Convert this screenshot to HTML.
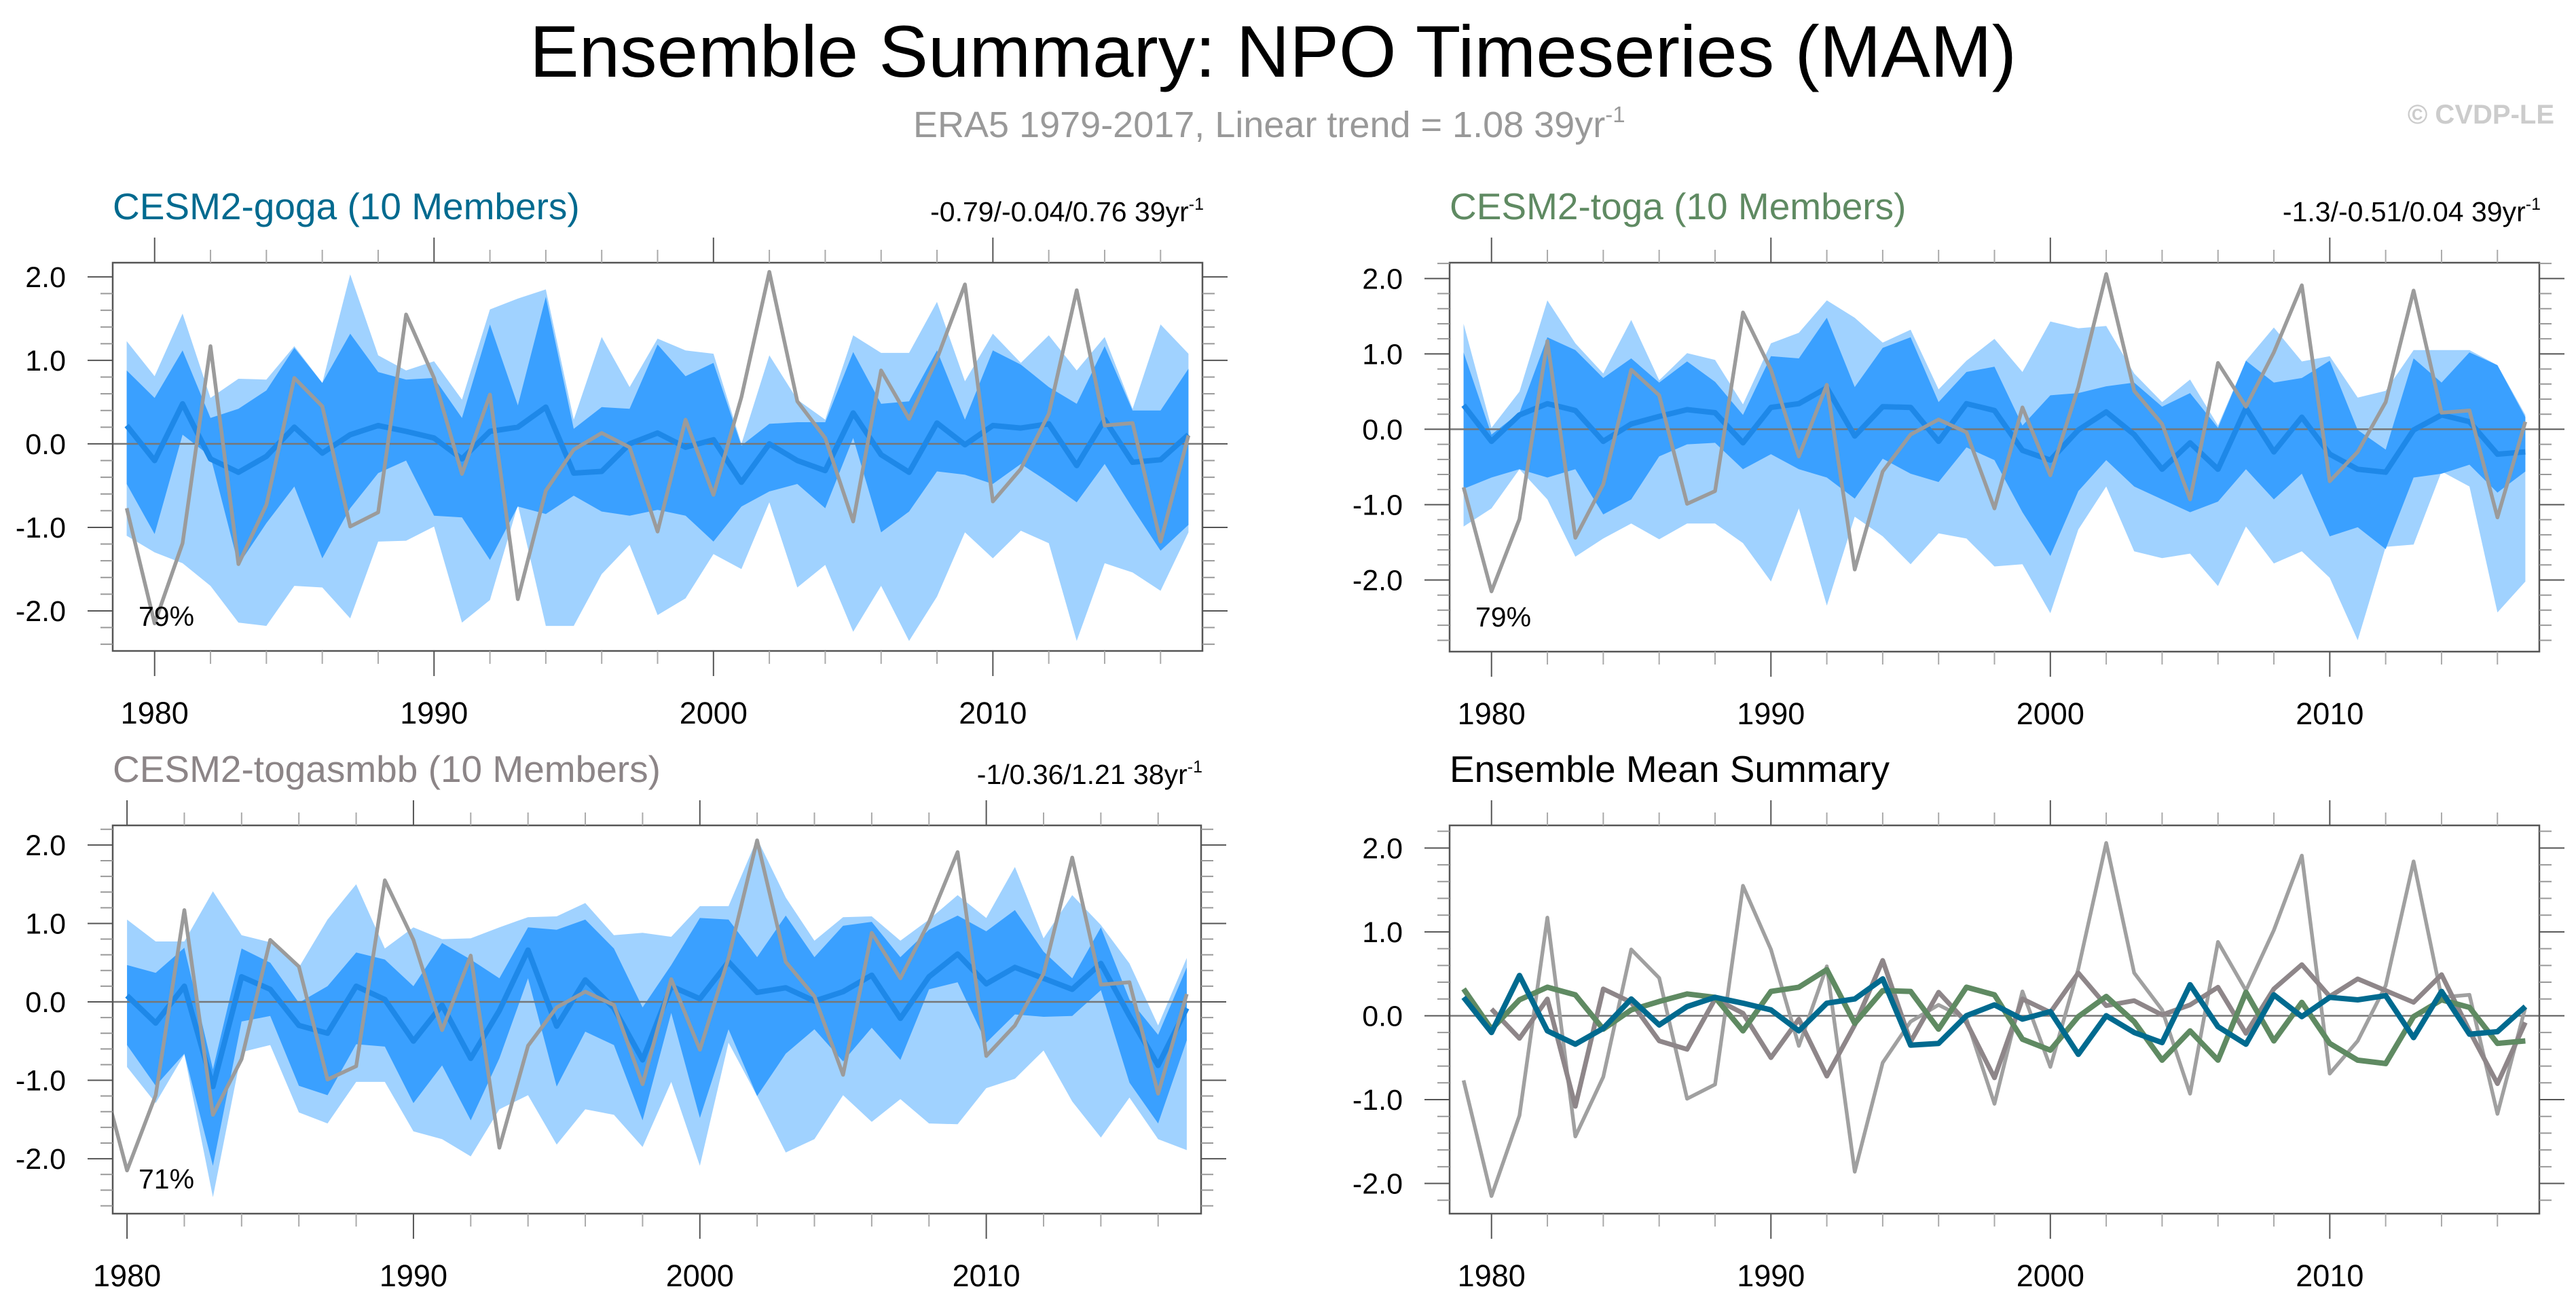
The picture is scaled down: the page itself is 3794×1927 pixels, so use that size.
<!DOCTYPE html>
<html><head><meta charset="utf-8"><title>Ensemble Summary: NPO Timeseries (MAM)</title>
<style>
html,body{margin:0;padding:0;background:#fff;}
svg{display:block;font-family:"Liberation Sans",Arial,sans-serif;}
</style></head>
<body>
<svg id="chart" xmlns="http://www.w3.org/2000/svg" width="3794" height="1927" viewBox="0 0 3794 1927">
<rect x="0" y="0" width="3794" height="1927" fill="#fff"/>
<text x="1875" y="113" font-size="108" text-anchor="middle" fill="#000" textLength="2190" lengthAdjust="spacingAndGlyphs">Ensemble Summary: NPO Timeseries (MAM)</text>
<text x="1345" y="202" font-size="54" fill="#999">ERA5 1979-2017, Linear trend = 1.08 39yr<tspan font-size="33" dy="-22">-1</tspan></text>
<text x="3762" y="182" font-size="40" font-weight="bold" text-anchor="end" fill="#ccc">© CVDP-LE</text>
<g id="panels"></g>
</svg>
<script>
// ---- data ----
const yearsFull = [1979,1980,1981,1982,1983,1984,1985,1986,1987,1988,1989,1990,1991,1992,1993,1994,1995,1996,1997,1998,1999,2000,2001,2002,2003,2004,2005,2006,2007,2008,2009,2010,2011,2012,2013,2014,2015,2016,2017];
const years38 = [1980,1981,1982,1983,1984,1985,1986,1987,1988,1989,1990,1991,1992,1993,1994,1995,1996,1997,1998,1999,2000,2001,2002,2003,2004,2005,2006,2007,2008,2009,2010,2011,2012,2013,2014,2015,2016,2017];
const era5 = [-0.77,-2.15,-1.19,1.17,-1.44,-0.73,0.79,0.45,-0.99,-0.82,1.55,0.79,-0.36,0.59,-1.86,-0.56,-0.07,0.13,-0.04,-1.05,0.29,-0.61,0.56,2.06,0.51,0.07,-0.93,0.88,0.3,1.02,1.91,-0.69,-0.3,0.36,1.84,0.22,0.25,-1.17,0.1];

const gogaOuterHi = [1.23,0.81,1.56,0.55,0.78,0.77,1.17,0.73,2.03,1.06,0.88,0.99,0.53,1.61,1.74,1.85,0.29,1.28,0.68,1.26,1.12,1.08,0.0,1.06,0.53,0.29,1.3,1.09,1.09,1.7,0.75,1.32,0.97,1.3,0.88,1.28,0.42,1.43,1.08];
const gogaOuterLo = [-1.1,-1.3,-1.43,-1.7,-2.14,-2.18,-1.7,-1.72,-2.09,-1.17,-1.16,-0.99,-2.14,-1.87,-0.73,-2.18,-2.18,-1.56,-1.21,-2.05,-1.85,-1.32,-1.5,-0.7,-1.72,-1.45,-2.25,-1.7,-2.36,-1.83,-1.06,-1.37,-1.04,-1.19,-2.36,-1.43,-1.54,-1.76,-1.06];
const gogaInnerHi = [0.88,0.55,1.12,0.31,0.42,0.64,1.15,0.73,1.32,0.86,0.77,0.79,0.31,1.43,0.46,1.76,0.18,0.44,0.42,1.19,0.81,0.97,-0.02,0.24,0.26,0.26,1.1,0.48,0.51,1.12,0.29,1.12,0.95,0.68,0.48,1.17,0.4,0.4,0.9];
const gogaInnerLo = [-0.48,-1.08,0.11,-0.15,-1.45,-0.95,-0.51,-1.37,-0.77,-0.35,-0.2,-0.86,-0.88,-1.39,-0.75,-0.84,-0.62,-0.81,-0.86,-0.79,-0.86,-1.17,-0.75,-0.57,-0.48,-0.77,0.07,-1.06,-0.81,-0.33,-0.37,-0.48,-0.24,-0.46,-0.7,-0.24,-0.77,-1.28,-0.97];
const gogaMean = [0.22,-0.2,0.48,-0.18,-0.34,-0.15,0.2,-0.11,0.11,0.22,0.15,0.07,-0.18,0.15,0.2,0.44,-0.35,-0.33,0.0,0.13,-0.04,0.05,-0.46,0.0,-0.2,-0.32,0.37,-0.13,-0.34,0.25,-0.01,0.22,0.19,0.24,-0.26,0.29,-0.22,-0.19,0.11];

const togaOuterHi = [1.4,0.02,0.5,1.71,1.14,0.74,1.45,0.65,1.01,0.92,0.33,1.14,1.28,1.71,1.48,1.15,1.32,0.53,0.91,1.2,0.76,1.43,1.34,1.37,0.74,0.36,0.66,0.05,0.91,1.35,0.9,0.97,0.42,0.51,1.05,1.05,1.05,0.85,0.19];
const togaOuterLo = [-1.29,-1.05,-0.53,-0.93,-1.69,-1.45,-1.25,-1.46,-1.25,-1.25,-1.51,-2.02,-1.05,-2.34,-1.16,-1.42,-1.79,-1.38,-1.45,-1.82,-1.79,-2.44,-1.33,-0.76,-1.62,-1.71,-1.65,-2.08,-1.29,-1.78,-1.62,-1.97,-2.8,-1.56,-1.53,-0.56,-0.76,-2.43,-2.02];
const togaInnerHi = [1.02,-0.07,0.22,1.22,1.05,0.68,0.94,0.62,0.9,0.63,0.19,0.97,0.94,1.48,0.56,1.08,1.22,0.36,0.76,0.83,0.05,0.45,0.48,0.57,0.62,0.3,0.48,0.02,0.91,0.62,0.68,0.91,-0.01,-0.27,0.94,0.62,1.02,0.85,0.16];
const togaInnerLo = [-0.79,-0.64,-0.53,-0.64,-0.53,-1.13,-0.93,-0.36,-0.2,-0.18,-0.53,-0.33,-0.53,-0.64,-0.92,-0.39,-0.59,-0.7,-0.24,-0.41,-1.1,-1.68,-0.82,-0.41,-0.76,-0.93,-1.1,-0.96,-0.53,-0.93,-0.59,-1.42,-1.3,-1.59,-0.64,-0.59,-0.47,-0.84,-0.56];
const togaMean = [0.32,-0.16,0.19,0.34,0.25,-0.16,0.07,0.17,0.26,0.22,-0.18,0.29,0.34,0.55,-0.09,0.3,0.29,-0.16,0.34,0.25,-0.28,-0.41,-0.01,0.23,-0.07,-0.53,-0.18,-0.53,0.28,-0.3,0.16,-0.33,-0.53,-0.57,-0.01,0.19,0.1,-0.33,-0.3];

const smbbOuterHi = [1.05,0.77,0.77,1.41,0.85,0.76,0.44,1.05,1.5,0.68,0.95,0.8,0.81,0.95,1.08,1.09,1.26,0.85,0.88,0.83,1.22,1.22,2.08,1.33,0.78,1.08,1.09,0.78,1.05,1.36,1.07,1.72,0.81,1.36,0.98,0.49,-0.3,0.56];
const smbbOuterLo = [-0.83,-1.29,-0.67,-2.49,-0.64,-0.55,-1.41,-1.55,-1.02,-1.02,-1.65,-1.75,-1.97,-1.37,-1.19,-1.82,-1.37,-1.44,-1.85,-1.02,-2.09,-0.52,-1.2,-1.92,-1.75,-1.19,-1.53,-1.24,-1.55,-1.56,-1.1,-0.98,-0.62,-1.27,-1.73,-1.22,-1.75,-1.89];
const smbbInnerHi = [0.47,0.37,0.69,-0.86,0.68,0.5,-0.01,0.2,0.63,0.54,0.2,0.75,0.54,0.3,0.95,0.92,1.05,0.68,-0.07,0.47,1.07,1.05,0.57,1.1,0.57,0.97,1.02,0.57,0.92,1.1,0.9,1.17,0.64,0.3,0.95,0.03,-0.42,0.44];
const smbbInnerLo = [-0.55,-1.07,-0.66,-2.09,-0.25,-0.18,-1.07,-1.19,-0.54,-0.57,-1.29,-0.81,-1.51,-0.72,0.3,-1.08,-0.38,-0.55,-1.51,-0.14,-1.48,-0.35,-1.2,-0.66,-0.35,-0.76,-0.33,-0.74,0.16,0.25,-0.52,-0.16,-0.19,-0.18,0.15,-1.03,-1.55,-0.49];
const smbbMean = [0.08,-0.27,0.2,-1.08,0.32,0.16,-0.3,-0.4,0.2,0.03,-0.5,-0.04,-0.72,-0.11,0.66,-0.31,0.28,-0.08,-0.74,0.2,0.04,0.51,0.12,0.18,0.01,0.13,0.34,-0.21,0.32,0.61,0.23,0.44,0.3,0.16,0.49,-0.18,-0.81,-0.08];

const yMajorLabels = ["-2.0","-1.0","0.0","1.0","2.0"];
const yMajorValues = [-2,-1,0,1,2];
const xMajorLabels = ["1980","1990","2000","2010"];
const xMajorValues = [1980,1990,2000,2010];

// ---- rendering ----
const NS = "http://www.w3.org/2000/svg";
const root = document.getElementById('panels');
function mk(tag, attrs, parent){
  const e = document.createElementNS(NS, tag);
  for (const k in attrs) e.setAttribute(k, attrs[k]);
  (parent||root).appendChild(e);
  return e;
}
let clipId = 0;

function drawPanel(cfg){
  const g = mk('g', {});
  
  
  const {x0,x1,y0,y1,xmin,xmax,ymin,ymax} = cfg;
  const xs = v => x0 + (v - xmin) / (xmax - xmin) * (x1 - x0);
  const ys = v => y0 + (ymax - v) / (ymax - ymin) * (y1 - y0);
  const cid = 'clip' + (clipId++);
  const cp = mk('clipPath', {id: cid}, g);
  mk('rect', {x:x0, y:y0, width:x1-x0, height:y1-y0}, cp);
  const plot = mk('g', {'clip-path': 'url(#' + cid + ')'}, g);

  (cfg.bands||[]).forEach(b => {
    const pts = [];
    b.years.forEach((yr,i)=>pts.push(xs(yr).toFixed(1)+','+ys(b.hi[i]).toFixed(1)));
    for (let i=b.years.length-1;i>=0;i--) pts.push(xs(b.years[i]).toFixed(1)+','+ys(b.lo[i]).toFixed(1));
    const p = mk('polygon', {points: pts.join(' '), fill: b.color, stroke: 'none'}, plot);
    
    
  });
  const z = mk('line', {x1:x0, x2:x1, y1:ys(0), y2:ys(0), stroke:'#777', 'stroke-width':2.5}, plot);
  
  
  (cfg.lines||[]).forEach(l => {
    const d = l.years.map((yr,i)=>(i?'L':'M')+xs(yr).toFixed(1)+','+ys(l.vals[i]).toFixed(1)).join(' ');
    const p = mk('path', {d: d, fill:'none', stroke:l.color, 'stroke-width':l.w, 'stroke-linejoin':'round'}, plot);
    
    
  });
  const fr = mk('rect', {x:x0, y:y0, width:x1-x0, height:y1-y0, fill:'none', stroke:'#555', 'stroke-width':2.5}, g);
  
  

  const yAxis = mk('g', {}, g);
  
  
  for (let k = Math.ceil(ymin/0.2 - 1e-6); k*0.2 <= ymax + 1e-6; k++){
    const v = k*0.2, yy = ys(v);
    const major = Math.abs(v - Math.round(v)) < 1e-6;
    const len = major ? 37 : 18;
    mk('line', {x1:x0-len, x2:x0, y1:yy, y2:yy, stroke: major?'#555':'#999', 'stroke-width':2}, yAxis);
    mk('line', {x1:x1, x2:x1+len, y1:yy, y2:yy, stroke: major?'#555':'#999', 'stroke-width':2}, yAxis);
  }
  yMajorValues.forEach((v,i)=>{
    if (v < ymin || v > ymax) return;
    const t = mk('text', {x:x0-69, y:ys(v)+15, 'font-size':43, 'text-anchor':'end', fill:'#000'}, yAxis);
    t.textContent = yMajorLabels[i];
    
    
  });
  const xAxis = mk('g', {}, g);
  
  
  for (let yr = 1980; yr <= xmax; yr += 2){
    if (yr < xmin) continue;
    const xx = xs(yr);
    const major = yr % 10 === 0;
    const len = major ? 37 : 19;
    mk('line', {x1:xx, x2:xx, y1:y0-len, y2:y0, stroke: major?'#555':'#aaa', 'stroke-width':2}, xAxis);
    mk('line', {x1:xx, x2:xx, y1:y1, y2:y1+len, stroke: major?'#555':'#aaa', 'stroke-width':2}, xAxis);
  }
  xMajorValues.forEach((v,i)=>{
    const t = mk('text', {x:xs(v), y:y1+107, 'font-size':45, 'text-anchor':'middle', fill:'#000'}, xAxis);
    t.textContent = xMajorLabels[i];
    
    
  });
  const tt = mk('text', {x:x0, y:y0-64, 'font-size':55, fill:cfg.titleColor}, g);
  tt.textContent = cfg.title;
  
  
  if (cfg.stats){
    const st = mk('text', {x:x1+2, y:y0-61, 'font-size':41, 'text-anchor':'end', fill:'#000'}, g);
    
    
    const a = mk('tspan', {}, st); a.textContent = cfg.stats;
    const b = mk('tspan', {'font-size':25, dy:-17}, st); b.textContent = '-1';
  }
  if (cfg.pct){
    const pt = mk('text', {x:x0+38, y:y1-37, 'font-size':41, fill:'#000'}, g);
    pt.textContent = cfg.pct;
    
    
  }
}

const LIGHT = '#a0d2ff', DARK = '#3aa0ff', MEANC = '#1e88e8', OBS = '#9b9b9b';

drawPanel({name:'panel-cesm2-goga', x0:166, x1:1771, y0:387, y1:959, xmin:1978.5, xmax:2017.5, ymin:-2.48, ymax:2.17,
  title:'CESM2-goga (10 Members)', titleColor:'#006a8f', stats:'-0.79/-0.04/0.76 39yr', pct:'79%',
  bands:[{name:'outer-spread-band', years:yearsFull, hi:gogaOuterHi, lo:gogaOuterLo, color:LIGHT},
         {name:'inner-spread-band', years:yearsFull, hi:gogaInnerHi, lo:gogaInnerLo, color:DARK}],
  lines:[{name:'ensemble-mean-line', years:yearsFull, vals:gogaMean, color:MEANC, w:8},
         {name:'era5-line', years:yearsFull, vals:era5, color:OBS, w:5.5}]});

drawPanel({name:'panel-cesm2-toga', x0:2135, x1:3740, y0:387, y1:960, xmin:1978.5, xmax:2017.5, ymin:-2.95, ymax:2.21,
  title:'CESM2-toga (10 Members)', titleColor:'#5f8a62', stats:'-1.3/-0.51/0.04 39yr', pct:'79%',
  bands:[{name:'outer-spread-band', years:yearsFull, hi:togaOuterHi, lo:togaOuterLo, color:LIGHT},
         {name:'inner-spread-band', years:yearsFull, hi:togaInnerHi, lo:togaInnerLo, color:DARK}],
  lines:[{name:'ensemble-mean-line', years:yearsFull, vals:togaMean, color:MEANC, w:8},
         {name:'era5-line', years:yearsFull, vals:era5, color:OBS, w:5.5}]});

drawPanel({name:'panel-cesm2-togasmbb', x0:166, x1:1769, y0:1216, y1:1788, xmin:1979.5, xmax:2017.5, ymin:-2.7, ymax:2.25,
  title:'CESM2-togasmbb (10 Members)', titleColor:'#8c8587', stats:'-1/0.36/1.21 38yr', pct:'71%',
  bands:[{name:'outer-spread-band', years:years38, hi:smbbOuterHi, lo:smbbOuterLo, color:LIGHT},
         {name:'inner-spread-band', years:years38, hi:smbbInnerHi, lo:smbbInnerLo, color:DARK}],
  lines:[{name:'ensemble-mean-line', years:years38, vals:smbbMean, color:MEANC, w:8},
         {name:'era5-line', years:yearsFull, vals:era5, color:OBS, w:5.5}]});

drawPanel({name:'panel-ensemble-mean-summary', x0:2135, x1:3740, y0:1216, y1:1788, xmin:1978.5, xmax:2017.5, ymin:-2.36, ymax:2.27,
  title:'Ensemble Mean Summary', titleColor:'#000',
  lines:[{name:'era5-line', years:yearsFull, vals:era5, color:'#a0a0a0', w:5.5},
         {name:'togasmbb-mean-line', years:years38, vals:smbbMean, color:'#8e8689', w:7},
         {name:'toga-mean-line', years:yearsFull, vals:togaMean, color:'#5f8a62', w:8},
         {name:'goga-mean-line', years:yearsFull, vals:gogaMean, color:'#006a8f', w:8}]});
</script>
</body></html>
